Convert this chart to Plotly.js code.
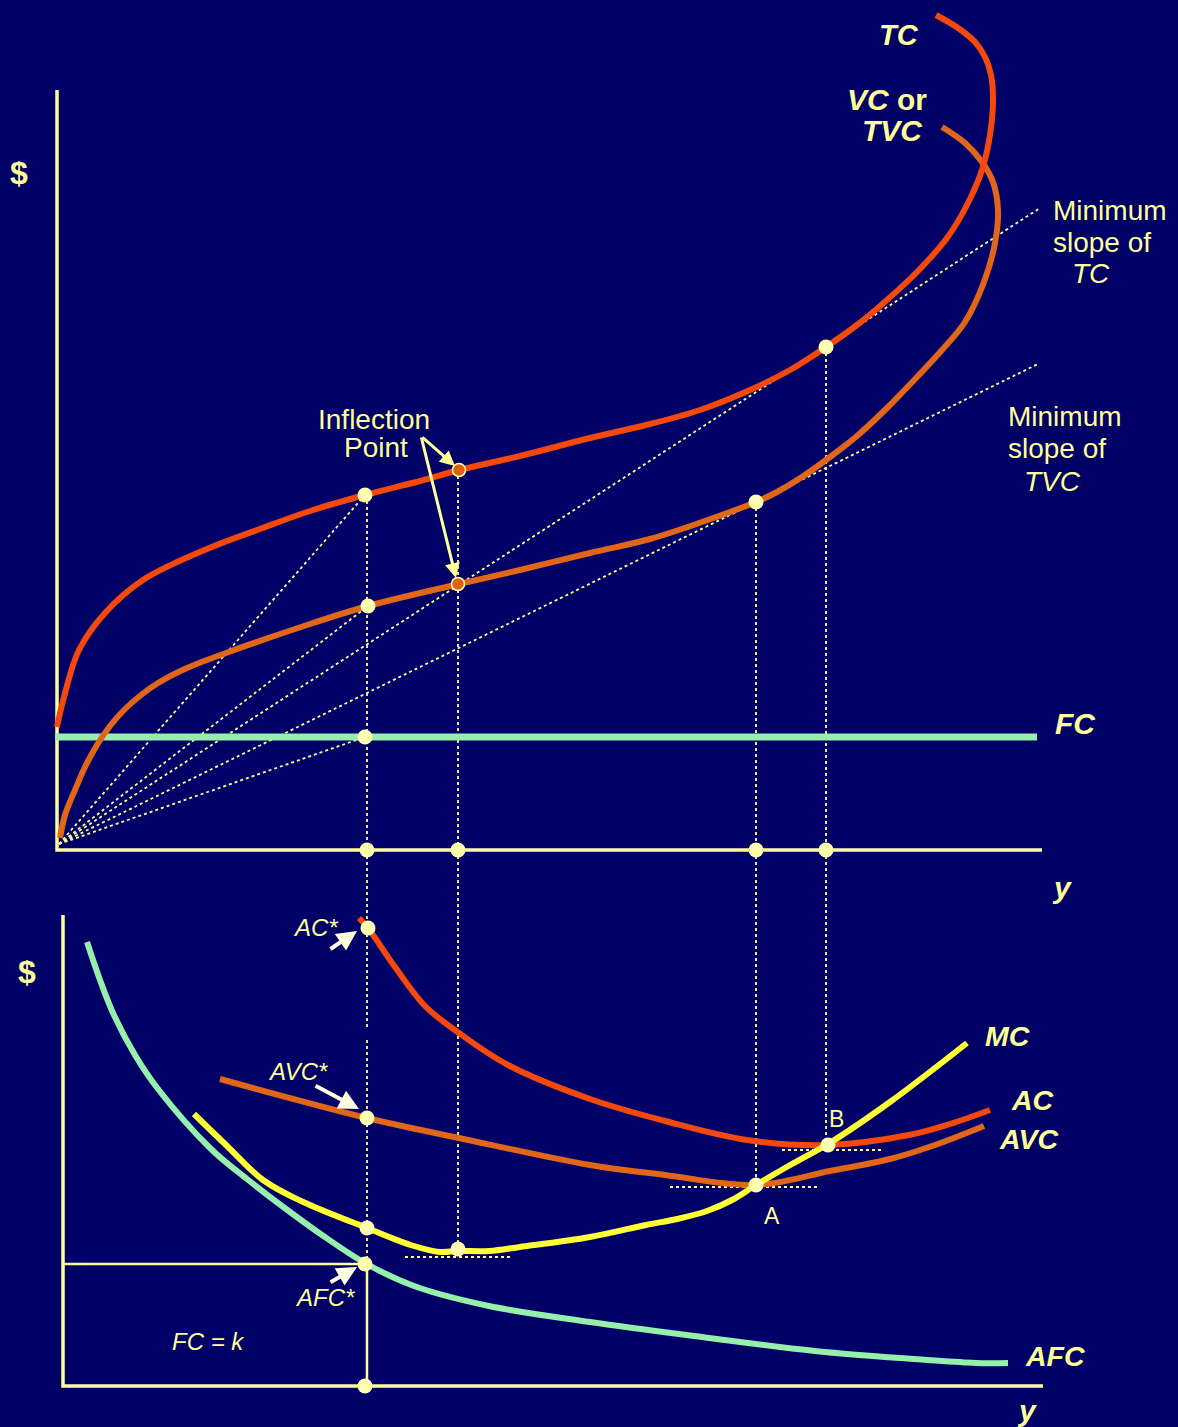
<!DOCTYPE html>
<html><head><meta charset="utf-8">
<script src="https://cdn.plot.ly/plotly-3.0.1.min.js"></script>
<style>html,body{margin:0;padding:0;background:#000066;overflow:hidden;} #chart{width:1178px;height:1427px;}</style>
</head><body><div id="chart"></div>
<script>
// ---------- TOP PANEL (quantity y on x, $ on yaxis) ----------
const tcX  = [0, 7, 22, 48, 86, 150, 203, 253, 308, 363, 402, 463, 533, 593, 643, 693, 733, 769, 800, 830, 860, 890, 910, 925, 933, 936, 934, 928, 918, 901, 879];
const tcY  = [123, 153, 200, 237, 270, 301, 321, 339, 355, 369, 380, 394, 412, 426, 440, 460, 480, 503, 525, 550, 578, 612, 645, 680, 715, 750, 775, 793, 808, 822, 835];
const tvcX = [3, 8, 18, 28, 40, 53, 67, 84, 101, 130, 169, 244, 311, 402, 463, 533, 593, 645, 699, 720, 745, 773, 800, 830, 860, 885, 908, 927, 938, 941, 936, 925, 908, 885];
const tvcY = [12, 35, 60, 83, 105, 124, 140, 155, 167, 182, 197, 223, 244, 266, 280, 297, 311, 328, 348, 358, 373, 393, 414, 442, 473, 500, 528, 568, 607, 640, 668, 688, 707, 723];
const fcX  = [-2, 980];
const fcY  = [113, 113];
const axis1X = [0, 0, 985];
const axis1Y = [760, 0, 0];
// rays from origin
const rayStart = [2, 6];
const rayEndX = [308, 311, 308, 983, 981];
const rayEndY = [355, 244, 113, 642, 486];
// vertical drop lines (quantities); bottom-panel pieces listed as segments
const dropX = [310, 401, 699, 769];
const dropTop = [355, 380, 348, 503];
const drop2X    = [310, 310, 401, 699, 769];
const drop2From = [536, 346, 536, 536, 536];
const drop2To   = [356, 0, 137, 201, 241];
// dots
const dot1X = [308, 311, 308, 310, 401, 699, 769, 699, 769];
const dot1Y = [355, 244, 113, 0, 0, 0, 0, 348, 503];
const inflX = [402, 401];
const inflY = [380, 266];

// ---------- BOTTOM PANEL (yaxis2) ----------
const axis2X = [6, 6, 986];
const axis2Y = [471, 0, 0];
const afcX = [30, 43, 56, 78, 101, 154, 190, 225, 265, 308, 357, 432, 533, 645, 758, 870, 919, 951];
const afcY = [444, 406, 373, 331, 297, 237, 207, 180, 151, 123, 100, 80, 64, 49, 35, 26, 23, 23];
const mcX = [137, 169, 206, 244, 310, 357, 383, 401, 432, 463, 533, 589, 620, 650, 675, 699, 735, 771, 833, 910];
const mcY = [272, 241, 206, 185, 158, 140, 134, 135, 135, 139, 149, 161, 167, 175, 186, 201, 222, 242, 284, 343];
const avcX = [163, 310, 402, 533, 608, 699, 773, 833, 878, 927];
const avcY = [307, 268, 248, 221, 211, 201, 215, 227, 241, 260];
const acX = [302, 311, 338, 368, 402, 451, 533, 608, 690, 770, 852, 893, 933];
const acY = [468, 458, 419, 380, 353, 321, 287, 265, 246, 241, 251, 262, 276];
const fcRectX = [6, 310, 310];
const fcRectY = [122, 122, 0];
const dot2X = [311, 310, 310, 308, 308, 401, 699, 771];
const dot2Y = [458, 268, 158, 122, 0, 137, 201, 241];
// short dotted horizontals at minima
const minLineX0 = [348, 613, 725];
const minLineX1 = [455, 763, 825];
const minLineY  = [129, 199, 236];

// ---------- styling ----------
const BG = '#000066', AX = '#FFFF99', TXT = '#FFFF99', DOT = '#FFFFB0';
const C_TC = '#F4480C', C_TVC = '#E2661A', C_GREEN = '#94F0AA', C_MC = '#FFFF33';
const FONT = 'Liberation Sans, Arial, sans-serif';

function segTrace(xs0, ys0, xs1, ys1, yaxis, style) {
  const x = [], y = [];
  for (let i = 0; i < xs0.length; i++) { x.push(xs0[i], xs1[i], null); y.push(ys0[i], ys1[i], null); }
  return Object.assign({x, y, yaxis, mode: 'lines', hoverinfo: 'skip', showlegend: false}, style);
}
const dotted = {line: {color: AX, width: 1.8, dash: 'dot'}};

const traces = [];
traces.push(segTrace(rayEndX.map(() => rayStart[0]), rayEndX.map(() => rayStart[1]), rayEndX, rayEndY, 'y', dotted));
traces.push(segTrace(dropX, dropTop, dropX, dropX.map(() => 0), 'y', dotted));
traces.push(segTrace(drop2X, drop2From, drop2X, drop2To, 'y2', dotted));
traces.push(segTrace(minLineX0, minLineY, minLineX1, minLineY, 'y2', dotted));
traces.push({x: axis1X, y: axis1Y, yaxis: 'y', mode: 'lines', line: {color: AX, width: 3.5}, hoverinfo: 'skip', showlegend: false});
traces.push({x: axis2X, y: axis2Y, yaxis: 'y2', mode: 'lines', line: {color: AX, width: 3.5}, hoverinfo: 'skip', showlegend: false});
traces.push({x: fcRectX, y: fcRectY, yaxis: 'y2', mode: 'lines', line: {color: AX, width: 2.5}, hoverinfo: 'skip', showlegend: false});
traces.push({x: fcX, y: fcY, yaxis: 'y', mode: 'lines', line: {color: C_GREEN, width: 7}, showlegend: false});
traces.push({x: tvcX, y: tvcY, yaxis: 'y', mode: 'lines', line: {color: C_TVC, width: 6, shape: 'spline', smoothing: 1}, showlegend: false});
traces.push({x: tcX, y: tcY, yaxis: 'y', mode: 'lines', line: {color: C_TC, width: 6, shape: 'spline', smoothing: 1}, showlegend: false});
traces.push({x: afcX, y: afcY, yaxis: 'y2', mode: 'lines', line: {color: C_GREEN, width: 6, shape: 'spline', smoothing: 1}, showlegend: false});
traces.push({x: avcX, y: avcY, yaxis: 'y2', mode: 'lines', line: {color: C_TVC, width: 6, shape: 'spline', smoothing: 1}, showlegend: false});
traces.push({x: acX, y: acY, yaxis: 'y2', mode: 'lines', line: {color: C_TC, width: 6, shape: 'spline', smoothing: 1}, showlegend: false});
traces.push({x: mcX, y: mcY, yaxis: 'y2', mode: 'lines', line: {color: C_MC, width: 6, shape: 'spline', smoothing: 1}, showlegend: false});
traces.push({x: dot1X, y: dot1Y, yaxis: 'y', mode: 'markers', marker: {color: DOT, size: 15}, showlegend: false});
traces.push({x: inflX, y: inflY, yaxis: 'y', mode: 'markers', marker: {color: '#E0601A', size: 13, line: {color: DOT, width: 1.5}}, showlegend: false});
traces.push({x: dot2X, y: dot2Y, yaxis: 'y2', mode: 'markers', marker: {color: DOT, size: 15}, showlegend: false});

function lbl(text, x, y, yref, size, opts) {
  return Object.assign({text, x, y, xref: 'x', yref, showarrow: false, font: {family: FONT, size, color: TXT}, xanchor: 'center', yanchor: 'middle'}, opts || {});
}
function arrow(x, y, ax, ay, yref, color, width) {
  return {x, y, ax, ay, xref: 'x', yref, axref: 'x', ayref: yref, text: '', showarrow: true,
          arrowcolor: color, arrowwidth: width, arrowhead: 2, arrowsize: 1, standoff: 0, startstandoff: 0};
}

const annotations = [
  lbl('<b>$</b>', -38, 677, 'y', 32),
  lbl('<b><i>y</i></b>', 1005, -37, 'y', 30),
  lbl('<b><i>FC</i></b>', 1018, 127, 'y', 30),
  lbl('<b><i>TC</i></b>', 842, 815, 'y', 29),
  lbl('<b><i>VC</i> or</b>', 872, 751, 'y', 30, {xanchor: 'right'}),
  lbl('<b><i>TVC</i></b>', 868, 720, 'y', 30, {xanchor: 'right'}),
  lbl('Minimum', 994, 640, 'y', 28, {xanchor: 'left'}),
  lbl('slope of', 994, 608, 'y', 28, {xanchor: 'left'}),
  lbl('<i>TC</i>', 1013, 577, 'y', 28, {xanchor: 'left'}),
  lbl('Minimum', 949, 434, 'y', 28, {xanchor: 'left'}),
  lbl('slope of', 949, 402, 'y', 28, {xanchor: 'left'}),
  lbl('<i>TVC</i>', 965, 369, 'y', 28, {xanchor: 'left'}),
  lbl('Inflection', 317, 431, 'y', 28),
  lbl('Point', 319, 403, 'y', 28),
  arrow(398, 384, 364, 414, 'y', AX, 3),
  arrow(399, 272, 364, 414, 'y', AX, 3),
  // bottom panel
  lbl('<b>$</b>', -30, 414, 'y2', 32),
  lbl('<b><i>y</i></b>', 970, -24, 'y2', 30),
  lbl('<b><i>MC</i></b>', 950, 350, 'y2', 28.5),
  lbl('<b><i>AC</i></b>', 975, 286, 'y2', 28.5),
  lbl('<b><i>AVC</i></b>', 971, 247, 'y2', 28.5),
  lbl('<b><i>AFC</i></b>', 998, 30, 'y2', 28.5),
  lbl('<i>AC*</i>', 258, 459, 'y2', 24),
  lbl('<i>AVC*</i>', 241, 315, 'y2', 24),
  lbl('<i>AFC*</i>', 268, 89, 'y2', 24),
  lbl('<i>FC = k</i>', 151, 45, 'y2', 24),
  lbl('A', 715, 170, 'y2', 23),
  lbl('B', 779, 267, 'y2', 23),
  arrow(300, 455, 272, 436, 'y2', '#FFFFE0', 4),
  arrow(302, 277, 257, 301, 'y2', '#FFFFE0', 4),
  arrow(300, 119, 272, 103, 'y2', '#FFFFE0', 4)
];

const layout = {
  width: 1178, height: 1427,
  margin: {l: 0, r: 0, t: 0, b: 0, pad: 0},
  paper_bgcolor: BG, plot_bgcolor: BG,
  showlegend: false,
  xaxis: {range: [-57, 1121], visible: false, fixedrange: true},
  yaxis: {range: [-577, 850], visible: false, fixedrange: true},
  yaxis2: {range: [-41, 1386], visible: false, overlaying: 'y', fixedrange: true},
  annotations
};
Plotly.newPlot('chart', traces, layout, {displayModeBar: false, staticPlot: true});
</script></body></html>
